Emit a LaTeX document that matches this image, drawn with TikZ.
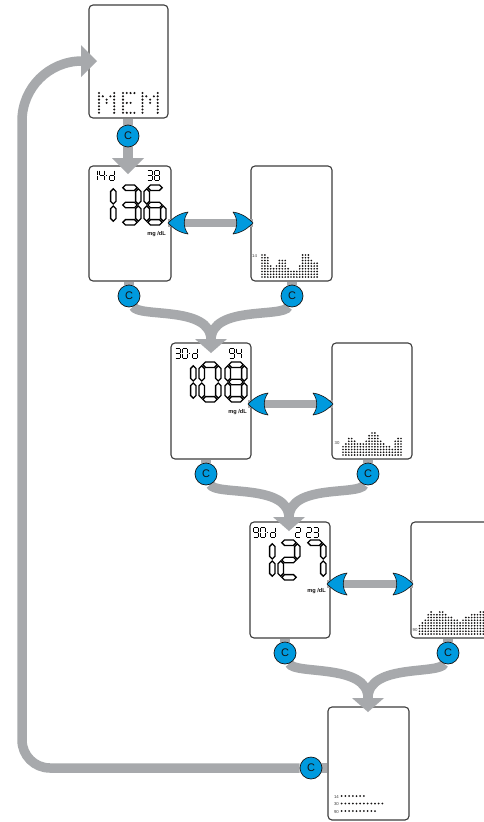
\documentclass[tikz,border=0pt]{standalone}
\usepackage{fontspec}
\setsansfont{Liberation Sans}
\pgfdeclarelayer{conn}
\pgfdeclarelayer{top}
\pgfsetlayers{main,conn,top}
\definecolor{greyc}{RGB}{167,169,172}
\definecolor{cblue}{RGB}{0,154,222}
\definecolor{dk}{RGB}{20,18,18}
\definecolor{scr}{RGB}{60,60,60}
\definecolor{lab}{RGB}{60,60,60}
% big seven-segment pieces
\newcommand{\hsg}[3]{\filldraw[segst] (#1,#3) -- (#1+2.7,#3-2.7) -- (#2-2.7,#3-2.7) -- (#2,#3) -- (#2-2.7,#3+2.7) -- (#1+2.7,#3+2.7) -- cycle;}
\newcommand{\vsg}[3]{\filldraw[segst] (#1,#2) -- (#1+2.7,#2+2.7) -- (#1+2.7,#3-2.7) -- (#1,#3) -- (#1-2.7,#3-2.7) -- (#1-2.7,#2+2.7) -- cycle;}
\newcommand{\dsegA}{\hsg{3.8}{18.2}{2.7}}
\newcommand{\dsegG}{\hsg{3.8}{18.2}{20}}
\newcommand{\dsegD}{\hsg{3.8}{18.2}{37.3}}
\newcommand{\dsegF}{\vsg{2.7}{3.8}{19}}
\newcommand{\dsegE}{\vsg{2.7}{21}{36.2}}
\newcommand{\dsegB}{\vsg{19.3}{3.8}{19}}
\newcommand{\dsegC}{\vsg{19.3}{21}{36.2}}
\newcommand{\bdig}[3]{\begin{scope}[shift={(#1,#2)}]\foreach \sg in {#3}{\csname dseg\sg\endcsname}\end{scope}}
% small seven-segment pieces
\newcommand{\ssegA}{\draw[sst] (0.5,0)--(4.5,0);}
\newcommand{\ssegB}{\draw[sst] (5,0.5)--(5,4.5);}
\newcommand{\ssegC}{\draw[sst] (5,5.5)--(5,9.5);}
\newcommand{\ssegD}{\draw[sst] (0.5,10)--(4.5,10);}
\newcommand{\ssegE}{\draw[sst] (0,5.5)--(0,9.5);}
\newcommand{\ssegF}{\draw[sst] (0,0.5)--(0,4.5);}
\newcommand{\ssegG}{\draw[sst] (0.5,5)--(4.5,5);}
\newcommand{\sdig}[3]{\begin{scope}[shift={(#1,#2)}]\foreach \sg in {#3}{\csname sseg\sg\endcsname}\end{scope}}
% blue arrow head
\newcommand{\bhd}[2]{\filldraw[bhead, shift={(#1)}, xscale=#2] (0,0) .. controls (-7,-7) and (-13,-10) .. (-20,-11) .. controls (-15,-4) and (-15,4) .. (-20,11) .. controls (-13,10) and (-7,7) .. (0,0) -- cycle;}
% dot matrix letters
\newcommand{\dotM}[1]{\foreach \cc/\kk in {0/0,0/1,0/2,0/3,0/4,0/5,0/6,4/0,4/1,4/2,4/3,4/4,4/5,4/6,1/1,3/1,2/2,2/3}{\fill[dk] (#1+\cc*3.8,93+\kk*3.3) circle[radius=1.15];}}
\newcommand{\dotE}[1]{\foreach \cc/\kk in {0/0,0/1,0/2,0/3,0/4,0/5,0/6,1/0,2/0,3/0,1/3,2/3,1/6,2/6,3/6}{\fill[dk] (#1+\cc*3.8,93+\kk*3.3) circle[radius=1.15];}}
\newcommand{\bars}[4]{\foreach \hh [count=\ii from 0] in {#4}{\foreach \kk in {1,...,\hh}{\fill[dk] (#1+\ii*#3,#2-\kk*2.75+2.75) circle[radius=0.95];}}}
\begin{document}
\begin{tikzpicture}[x=1pt,y=-1pt,
  screen/.style={rectangle, draw=scr, line width=1.1pt, rounded corners=4pt, fill=white, inner sep=0pt},
  gpath/.style={draw=greyc, line width=9.5pt},
  dpath/.style={draw=greyc, line width=8pt},
  ghead/.style={fill=greyc},
  bhead/.style={fill=cblue, draw=dk, line width=0.6pt, line join=round},
  cbtn/.style={circle, fill=cblue, draw=dk, line width=0.7pt, minimum size=22pt, inner sep=0pt, font=\sffamily\fontsize{11}{11}\selectfont, text=dk},
  segst/.style={fill=white, draw=black, line width=1.3pt, line join=miter},
  sst/.style={draw=black, line width=1.0pt},
  tinylab/.style={inner sep=0pt, text=lab, font=\sffamily\fontsize{4.3}{5}\selectfont},
  unit/.style={inner sep=0pt, text=dk, font=\sffamily\bfseries\fontsize{5.6}{6}\selectfont}]
\clip (0,0) rectangle (484,822);
\fill[white] (0,0) rectangle (484,822);
% screens
\node[screen, minimum width=79pt, minimum height=113pt] (s1) at (128.5,61.5) {};
\node[screen, minimum width=82pt, minimum height=115pt] (s2) at (130,223.5) {};
\node[screen, minimum width=81pt, minimum height=115pt] (g2) at (291.5,223.5) {};
\node[screen, minimum width=80pt, minimum height=116pt] (s3) at (211,401) {};
\node[screen, minimum width=80pt, minimum height=116pt] (g3) at (372,401) {};
\node[screen, minimum width=80pt, minimum height=116pt] (s4) at (290,580) {};
\node[screen, minimum width=83pt, minimum height=116pt] (g4) at (452.5,580) {};
\node[screen, minimum width=81pt, minimum height=113pt] (s5) at (368.5,763.5) {};
% MEM
\dotM{99}\dotE{123}\dotM{142.5}
% screen 2: 14-d 38 / 136
\sdig{92.5}{170}{B,C}\sdig{99}{170}{B,C,F,G}\draw[sst] (105.6,175)--(107.4,175);\sdig{109}{170}{B,C,D,E,G}
\sdig{147}{170}{A,B,C,D,G}\sdig{154}{170}{A,B,C,D,E,F,G}
\bdig{94}{185}{B,C}\bdig{119}{185}{A,B,C,D,G}\bdig{144}{185}{A,C,D,E,F,G}
\node[unit, anchor=east] (u2) at (166,234) {mg /dL};
% screen 3: 30-d 94 / 108
\sdig{175}{348}{A,B,C,D,G}\sdig{182}{348}{A,B,C,D,E,F}\draw[sst] (188.6,353)--(190.4,353);\sdig{192}{348}{B,C,D,E,G}
\sdig{229}{348}{A,B,C,D,F,G}\sdig{236}{348}{B,C,F,G}
\bdig{174}{362}{B,C}\bdig{199}{362}{A,B,C,D,E,F}\bdig{225}{362}{A,B,C,D,E,F,G}
\node[unit, anchor=east] (u3) at (247,412) {mg /dL};
% screen 4: 90-d 2 23 / 127
\sdig{253}{527}{A,B,C,D,F,G}\sdig{260}{527}{A,B,C,D,E,F}\draw[sst] (266.6,532)--(268.4,532);\sdig{270}{527}{B,C,D,E,G}
\sdig{295}{527}{A,B,D,E,G}\sdig{306}{527}{A,B,D,E,G}\sdig{313}{527}{A,B,C,D,G}
\bdig{253}{540}{B,C}\bdig{278}{540}{A,B,D,E,G}\bdig{304}{540}{A,B,C}
\node[unit, anchor=east] (u4) at (326,591) {mg /dL};
% graphs
\node[tinylab] (l2) at (254.5,256.5) {14};
\bars{262}{277}{2.9}{9,9,8,5,4,5,7,7,7,4,3,3,3,5,9,9,9,7,6,6}
\node[tinylab] (l3) at (337,443) {30};
\bars{343}{455}{2.9}{4,5,7,7,6,5,5,5,6,8,9,9,8,6,5,4,4,3,6,7,7}
\node[tinylab] (l4) at (415,630) {90};
\bars{419.5}{634}{2.9}{4,5,6,8,9,8,8,9,9,8,7,7,6,6,5,6,7,7,8,8,8,9,9}
% summary screen
\foreach \n/\yy/\lb in {7/796/14,12/803.5/30,10/811/90}{
  \node[tinylab, anchor=east] at (339,\yy+0.8) {\lb};
  \foreach \j in {1,...,\n}{\fill[dk] (338+\j*3.7,\yy) circle[radius=1.0];}}
% C buttons
\begin{pgfonlayer}{top}
\node[cbtn] (c1) at (128,136) {C};
\node[cbtn] (c2l) at (129,296) {C};
\node[cbtn] (c2r) at (292,296) {C};
\node[cbtn] (c3l) at (206,474) {C};
\node[cbtn] (c3r) at (368,474) {C};
\node[cbtn] (c4l) at (285,653) {C};
\node[cbtn] (c4r) at (448,653) {C};
\node[cbtn] (c5) at (311,768) {C};
\end{pgfonlayer}
% connectors
\begin{pgfonlayer}{conn}
\coordinate (h1) at (128,174);
\coordinate (h1b) at (128,159);
\draw[gpath] (s1.south -| c1) -- (c1) -- (h1b);
\fill[ghead] (h1) -- ++(-16,-16) -- ++(32,0) -- cycle;
% merge 1
\coordinate (m1) at (211,340);
\coordinate (h2) at (211,353);
\draw[gpath] (s2.south -| c2l) -- (c2l);
\draw[gpath] (g2.south -| c2r) -- (c2r);
\draw[gpath] (c2l) .. controls +(9,22) and +(0,-35) .. (m1);
\draw[gpath] (c2r) .. controls +(-8,22) and +(0,-35) .. (m1);
\fill[ghead] (h2) -- ++(-16,-14) -- ++(32,0) -- cycle;
% merge 2
\coordinate (m2) at (289,518);
\coordinate (h3) at (289,531);
\draw[gpath] (s3.south -| c3l) -- (c3l);
\draw[gpath] (g3.south -| c3r) -- (c3r);
\draw[gpath] (c3l) .. controls +(9,22) and +(0,-35) .. (m2);
\draw[gpath] (c3r) .. controls +(-8,22) and +(0,-35) .. (m2);
\fill[ghead] (h3) -- ++(-16,-14) -- ++(32,0) -- cycle;
% merge 3
\coordinate (m3) at (368,698);
\coordinate (h4) at (368,712);
\draw[gpath] (s4.south -| c4l) -- (c4l);
\draw[gpath] (g4.south -| c4r) -- (c4r);
\draw[gpath] (c4l) .. controls +(9,22) and +(0,-35) .. (m3);
\draw[gpath] (c4r) .. controls +(-8,22) and +(0,-35) .. (m3);
\fill[ghead] (h4) -- ++(-16,-14) -- ++(32,0) -- cycle;
% loop back
\coordinate (lp) at (82,61);
\coordinate (lh) at (97,61);
\draw[gpath] (c5) -- (c5 -| s5.west);
\draw[gpath] (c5) -- (50,768) .. controls (34.5,768) and (22,755.5) .. (22,740) -- (22,121) .. controls (22,87.9) and (48.9,61) .. (lp);
\fill[ghead] (lh) -- ++(-16,-16) -- ++(0,32) -- cycle;
% double arrows
\coordinate (t2l) at (168,223); \coordinate (t2r) at (253,223);
\coordinate (t3l) at (248,404); \coordinate (t3r) at (333,404);
\coordinate (t4l) at (327,584); \coordinate (t4r) at (413,584);
\draw[dpath] (t2l) -- (t2r);
\draw[dpath] (t3l) -- (t3r);
\draw[dpath] (t4l) -- (t4r);
\bhd{t2l}{-1}\bhd{t2r}{1}
\bhd{t3l}{-1}\bhd{t3r}{1}
\bhd{t4l}{-1}\bhd{t4r}{1}
\end{pgfonlayer}
\end{tikzpicture}
\end{document}
